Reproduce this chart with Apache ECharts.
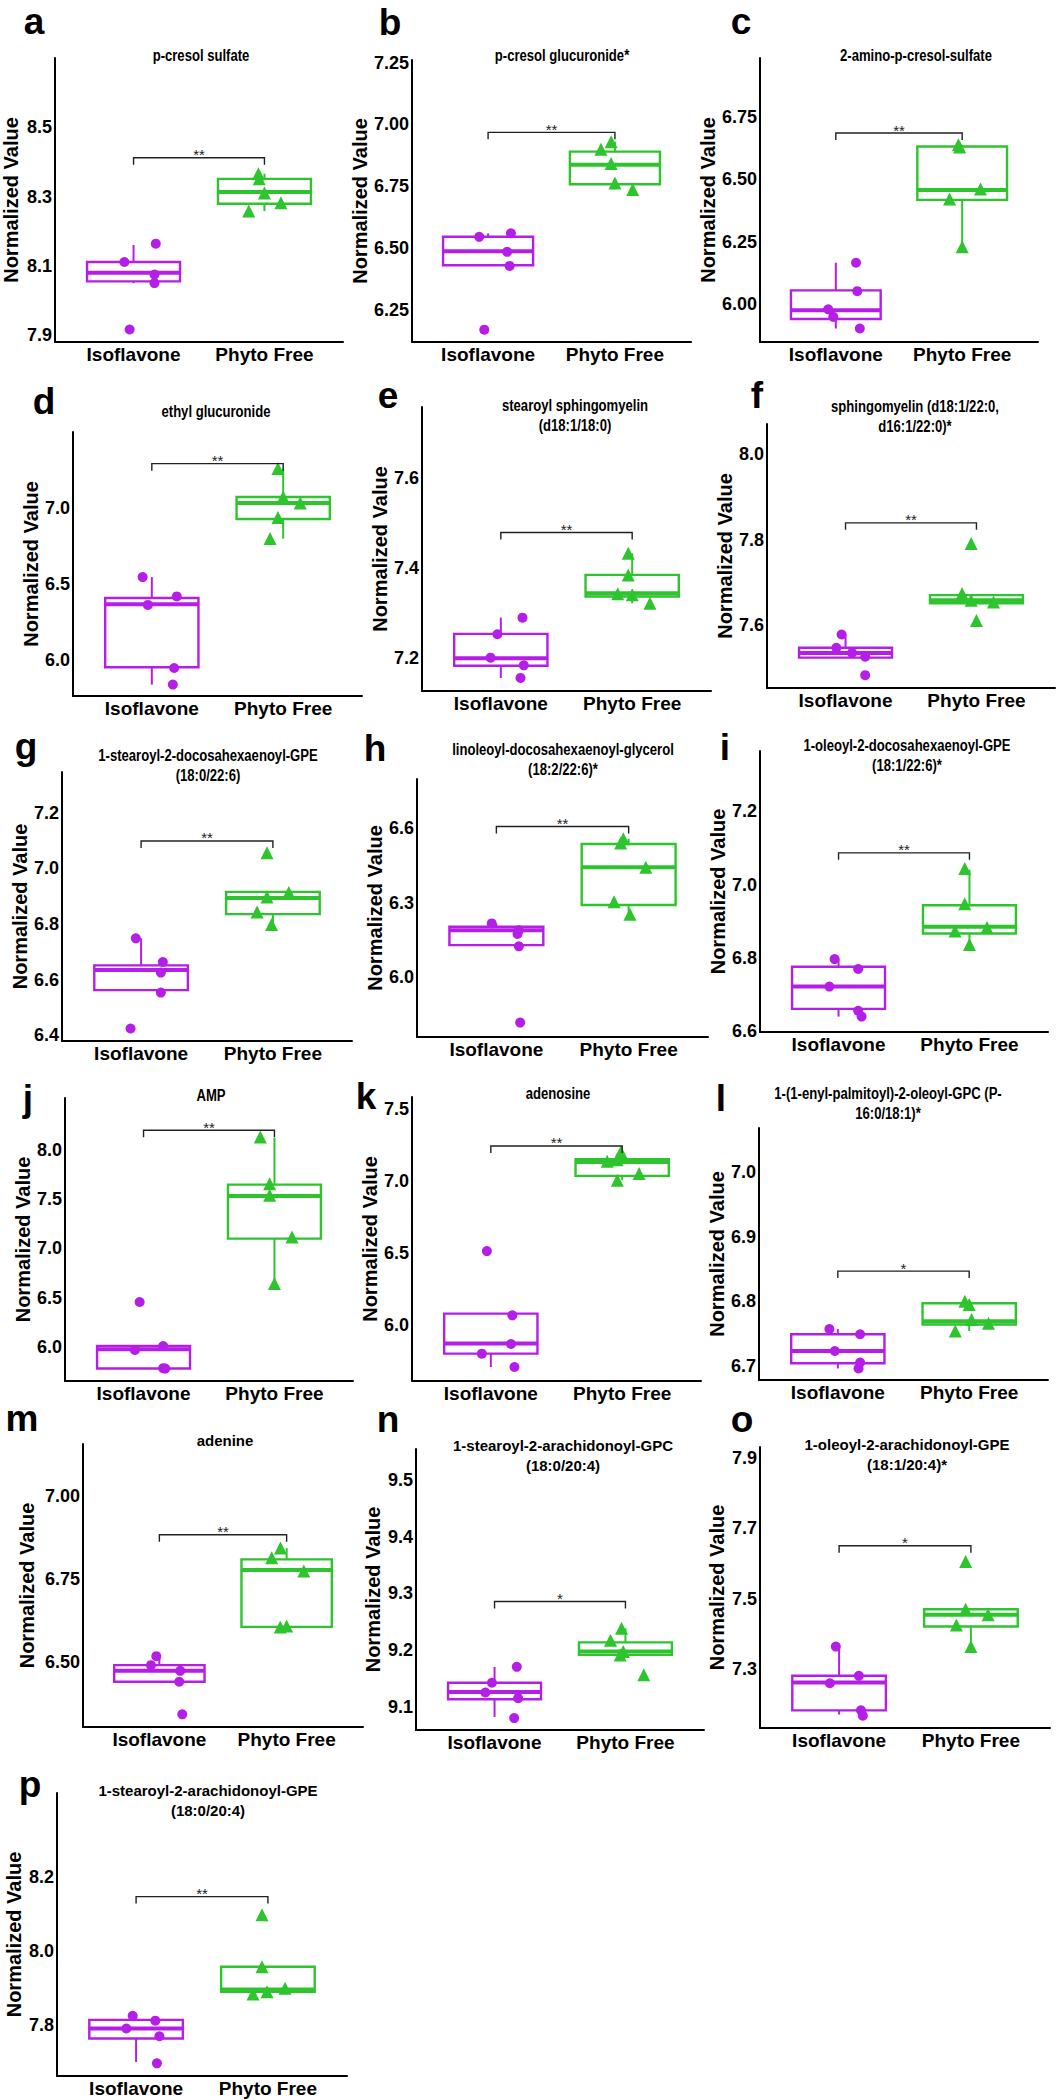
<!DOCTYPE html>
<html>
<head>
<meta charset="utf-8">
<script src="https://cdn.jsdelivr.net/npm/echarts@6/dist/echarts.min.js"></script>
<style>
html,body{margin:0;padding:0;background:#ffffff;}
#chart{width:1064px;height:2100px;}
</style>
</head>
<body>
<div id="chart"></div>
<script>
// ---------------- DATA ----------------
const categories = ['Isoflavone', 'Phyto Free'];

const panelLetters = ['a','b','c','d','e','f','g','h','i','j','k','l','m','n','o','p'];

const panelTitles = [
  'p-cresol sulfate',
  'p-cresol glucuronide*',
  '2-amino-p-cresol-sulfate',
  'ethyl glucuronide',
  'stearoyl sphingomyelin\n(d18:1/18:0)',
  'sphingomyelin (d18:1/22:0,\nd16:1/22:0)*',
  '1-stearoyl-2-docosahexaenoyl-GPE\n(18:0/22:6)',
  'linoleoyl-docosahexaenoyl-glycerol\n(18:2/22:6)*',
  '1-oleoyl-2-docosahexaenoyl-GPE\n(18:1/22:6)*',
  'AMP',
  'adenosine',
  '1-(1-enyl-palmitoyl)-2-oleoyl-GPC (P-\n16:0/18:1)*',
  'adenine',
  '1-stearoyl-2-arachidonoyl-GPC\n(18:0/20:4)',
  '1-oleoyl-2-arachidonoyl-GPE\n(18:1/20:4)*',
  '1-stearoyl-2-arachidonoyl-GPE\n(18:0/20:4)'
];

const yTickLabels = [
  ['7.9','8.1','8.3','8.5'],
  ['6.25','6.50','6.75','7.00','7.25'],
  ['6.00','6.25','6.50','6.75'],
  ['6.0','6.5','7.0'],
  ['7.2','7.4','7.6'],
  ['7.6','7.8','8.0'],
  ['6.4','6.6','6.8','7.0','7.2'],
  ['6.0','6.3','6.6'],
  ['6.6','6.8','7.0','7.2'],
  ['6.0','6.5','7.0','7.5','8.0'],
  ['6.0','6.5','7.0','7.5'],
  ['6.7','6.8','6.9','7.0'],
  ['6.50','6.75','7.00'],
  ['9.1','9.2','9.3','9.4','9.5'],
  ['7.3','7.5','7.7','7.9'],
  ['7.8','8.0','8.2']
];

const yRanges = [
  [7.88, 8.70], [6.119, 7.261], [5.848, 6.987],
  [5.761, 7.497], [7.127, 7.758], [7.453, 8.07],
  [6.379, 7.346], [5.761, 6.797], [6.598, 7.365],
  [5.655, 8.523], [5.613, 7.585], [6.678, 7.069],
  [6.304, 7.155], [9.06, 9.554], [7.133, 7.93],
  [7.663, 8.425]
];

// points: [horizontal jitter from group centre, value]
const isoPoints = [
  [[0.17,8.164],[-0.07,8.111],[0.16,8.075],[0.16,8.05],[-0.03,7.916]],
  [[-0.07,6.545],[0.18,6.559],[0.15,6.484],[0.17,6.427],[-0.03,6.169]],
  [[0.16,6.166],[0.17,6.052],[-0.06,5.979],[-0.02,5.949],[0.19,5.902]],
  [[-0.07,6.543],[0.19,6.416],[-0.03,6.36],[0.17,5.945],[0.16,5.836]],
  [[0.165,7.29],[-0.026,7.253],[-0.078,7.201],[0.175,7.184],[0.15,7.156]],
  [[-0.03,7.578],[-0.07,7.547],[0.05,7.535],[0.15,7.526],[0.15,7.483]],
  [[-0.04,6.748],[0.165,6.663],[0.15,6.625],[0.15,6.553],[-0.08,6.424]],
  [[-0.035,6.217],[0.17,6.19],[0.16,6.175],[0.17,6.125],[0.18,5.819]],
  [[-0.03,6.797],[0.15,6.77],[-0.07,6.722],[0.15,6.656],[0.176,6.64]],
  [[-0.03,6.456],[0.15,6.01],[-0.066,5.97],[0.15,5.785],[0.166,5.781]],
  [[-0.03,6.515],[0.164,6.069],[0.154,5.87],[-0.068,5.803],[0.18,5.71]],
  [[-0.064,6.757],[0.17,6.749],[-0.023,6.723],[0.17,6.705],[0.158,6.696]],
  [[-0.024,6.517],[-0.066,6.49],[0.164,6.473],[0.156,6.44],[0.18,6.342]],
  [[0.17,9.171],[-0.02,9.143],[-0.07,9.126],[0.18,9.116],[0.15,9.081]],
  [[-0.025,7.364],[0.15,7.281],[-0.07,7.26],[0.166,7.183],[0.18,7.168]],
  [[-0.026,7.825],[0.146,7.812],[-0.074,7.791],[0.177,7.77],[0.158,7.697]]
];

const phytoPoints = [
  [[-0.046,8.366],[-0.04,8.351],[0.0,8.31],[0.126,8.282],[-0.12,8.258]],
  [[-0.03,6.93],[-0.11,6.90],[-0.03,6.842],[0.0,6.763],[0.14,6.737]],
  [[-0.03,6.639],[-0.02,6.63],[0.145,6.462],[-0.1,6.422],[0.0,6.23]],
  [[-0.04,7.257],[0.0,7.07],[0.13,7.03],[-0.04,6.934],[-0.1,6.796]],
  [[-0.03,7.433],[-0.03,7.385],[-0.11,7.343],[0.0,7.341],[0.135,7.322]],
  [[-0.04,7.791],[-0.11,7.674],[-0.04,7.658],[0.13,7.654],[0.0,7.611]],
  [[-0.045,7.056],[0.12,6.913],[-0.045,6.897],[-0.12,6.843],[-0.01,6.798]],
  [[-0.04,6.557],[-0.06,6.54],[0.13,6.443],[-0.11,6.304],[0.01,6.254]],
  [[-0.036,7.044],[-0.036,6.948],[0.134,6.883],[-0.11,6.874],[0.0,6.837]],
  [[-0.108,8.128],[-0.037,7.655],[-0.037,7.537],[0.134,7.114],[0.0,6.642]],
  [[-0.01,7.203],[-0.04,7.15],[-0.114,7.139],[0.129,7.053],[-0.037,7.007]],
  [[-0.033,6.80],[0.0,6.795],[0.018,6.772],[0.147,6.766],[-0.106,6.754]],
  [[-0.048,6.842],[-0.117,6.813],[0.135,6.773],[-0.05,6.605],[0.0,6.608]],
  [[-0.03,9.239],[-0.114,9.218],[-0.017,9.198],[-0.04,9.192],[0.14,9.157]],
  [[-0.04,7.605],[-0.04,7.47],[0.13,7.454],[-0.11,7.425],[0.0,7.364]],
  [[-0.045,8.097],[-0.045,7.957],[-0.113,7.884],[-0.007,7.89],[0.13,7.899]]
];

// boxes: [lower whisker, Q1, median, Q3, upper whisker]
const isoBoxes = [
  [8.05,8.055,8.08,8.111,8.16],
  [6.427,6.43,6.487,6.545,6.559],
  [5.902,5.94,5.975,6.055,6.166],
  [5.836,5.95,6.365,6.405,6.543],
  [7.156,7.183,7.2,7.254,7.29],
  [7.524,7.524,7.535,7.547,7.578],
  [6.562,6.562,6.634,6.651,6.748],
  [6.13,6.13,6.19,6.204,6.217],
  [6.64,6.661,6.722,6.776,6.797],
  [5.781,5.781,5.977,6.01,6.01],
  [5.71,5.803,5.873,6.081,6.081],
  [6.696,6.704,6.723,6.749,6.757],
  [6.44,6.44,6.473,6.49,6.517],
  [9.083,9.114,9.127,9.143,9.171],
  [7.171,7.183,7.262,7.281,7.364],
  [7.701,7.764,7.791,7.814,7.825]
];

const phytoBoxes = [
  [8.258,8.279,8.313,8.351,8.366],
  [6.737,6.758,6.837,6.89,6.93],
  [6.23,6.418,6.458,6.632,6.639],
  [6.796,6.925,7.03,7.07,7.257],
  [7.322,7.337,7.344,7.385,7.433],
  [7.651,7.651,7.658,7.67,7.67],
  [6.798,6.835,6.893,6.915,6.915],
  [6.254,6.291,6.443,6.536,6.557],
  [6.837,6.867,6.885,6.944,7.041],
  [6.642,7.098,7.53,7.645,8.12],
  [7.007,7.037,7.134,7.153,7.203],
  [6.754,6.764,6.769,6.797,6.80],
  [6.605,6.605,6.776,6.808,6.842],
  [9.192,9.192,9.198,9.214,9.239],
  [7.364,7.421,7.454,7.47,7.47],
  [7.884,7.89,7.896,7.957,7.957]
];

const bracketLevels = [8.412, 6.968, 6.686, 7.289, 7.479, 7.839, 7.098, 6.606, 7.087, 8.196, 7.245, 6.847, 6.882, 9.286, 7.65, 8.146];
const significance = ['**','**','**','**','**','**','**','**','**','**','**','*','**','*','*','**'];

// ---------------- LAYOUT (pixels) ----------------
// [left, top, right, bottom] of each plotting area
const gridBoxes = [
  [54,58,343,342],[412,60,691,342],[760,58,1038,342],
  [73,432,362,696],[422,407,711,691],[767,424,1055,688],
  [62,772,352,1041],[417,779,708,1037],[760,751,1048,1032],
  [65,1098,353,1381],[412,1097,701,1381],[759,1128,1048,1380],
  [83,1444,363,1727],[416,1449,704,1730],[760,1447,1050,1728],
  [57,1793,347,2076]
];
const titlePos = [
  [201,55],[562,55],[916,55],
  [216,411],[575,415],[915,416],
  [208,765],[563,759],[907,755],
  [211,1095],[558,1093],[888,1103],
  [225,1440],[563,1455],[907,1454],
  [208,1800]
];
// condensed look of the titles in panels a-l, regular in m-p
const titleScaleX = [0.77,0.77,0.77,0.77,0.77,0.77,0.77,0.77,0.77,0.77,0.77,0.77,1,1,1,1];
const titleFontSize = [17,17,17,17,17,17,17,17,17,17,17,17,15,15,15,15];
const letterPos = [
  [34,34],[390,35],[741,34],
  [44,414],[388,408],[757,408],
  [26,759],[375,761],[725,760],
  [28,1111],[366,1109],[721,1111],
  [22,1431],[388,1432],[742,1432],
  [30,1797]
];
const nameGaps = [34,42,42,32,32,31,32,30,31,31,32,30,46,33,33,33];

const PURPLE = '#B41EE6';
const GREEN = '#2EC42E';
const FONT = '"Liberation Sans", Arial, Helvetica, sans-serif';
const BOX_WIDTH = 0.71;

// ---------------- RENDERERS ----------------
function renderBox(params, api) {
  const x = api.value(0);
  const color = x < 1.5 ? PURPLE : GREEN;
  const half = api.size([BOX_WIDTH, 0])[0] / 2;
  const pLo = api.coord([x, api.value(1)]);
  const yQ1 = api.coord([x, api.value(2)])[1];
  const yMed = api.coord([x, api.value(3)])[1];
  const yQ3 = api.coord([x, api.value(4)])[1];
  const yHi = api.coord([x, api.value(5)])[1];
  const cx = pLo[0];
  return {
    type: 'group',
    children: [
      {type:'line', shape:{x1:cx, y1:yQ3, x2:cx, y2:yHi}, style:{stroke:color, lineWidth:2}},
      {type:'line', shape:{x1:cx, y1:yQ1, x2:cx, y2:pLo[1]}, style:{stroke:color, lineWidth:2}},
      {type:'rect', shape:{x:cx-half, y:yQ3, width:2*half, height:yQ1-yQ3}, style:{fill:'none', stroke:color, lineWidth:2.4}},
      {type:'line', shape:{x1:cx-half, y1:yMed, x2:cx+half, y2:yMed}, style:{stroke:color, lineWidth:4}}
    ]
  };
}

function makeBracket(label) {
  return function (params, api) {
    const h = api.value(2);
    const p1 = api.coord([api.value(0), h]);
    const p2 = api.coord([api.value(1), h]);
    return {
      type: 'group',
      children: [
        {type:'polyline', shape:{points:[[p1[0], p1[1]+7], [p1[0], p1[1]], [p2[0], p2[1]], [p2[0], p2[1]+7]]},
         style:{stroke:'#222', lineWidth:1.4, fill:'none'}},
        {type:'text', x:(p1[0]+p2[0])/2, y:p1[1]-3,
         style:{text:label, fill:'#222', fontSize:15, fontFamily:FONT, align:'center', verticalAlign:'middle'}}
      ]
    };
  };
}

// ---------------- OPTION ----------------
const grid = [], xAxis = [], yAxis = [], series = [], graphic = [];
const axisLineStyle = {color:'#000', width:2};

for (let i = 0; i < 16; i++) {
  const [l, t, r, b] = gridBoxes[i];
  grid.push({left:l, top:t, width:r-l, height:b-t, containLabel:false});

  xAxis.push({
    gridIndex:i, type:'value', min:0.4, max:2.6,
    axisLine:{show:true, onZero:false, lineStyle:axisLineStyle},
    axisTick:{show:false}, splitLine:{show:false},
    axisLabel:{
      customValues:[1,2],
      formatter:function (v) { return categories[Math.round(v)-1] || ''; },
      color:'#000', fontWeight:'bold', fontSize:19, fontFamily:FONT, margin:3
    }
  });

  const ticks = yTickLabels[i];
  yAxis.push({
    gridIndex:i, type:'value', min:yRanges[i][0], max:yRanges[i][1],
    name:'Normalized Value', nameLocation:'middle', nameGap:nameGaps[i],
    nameTextStyle:{color:'#000', fontWeight:'bold', fontSize:20, fontFamily:FONT},
    axisLine:{show:true, onZero:false, lineStyle:axisLineStyle},
    axisTick:{show:false}, splitLine:{show:false},
    axisLabel:{
      customValues:ticks.map(Number),
      formatter:function (v) {
        const s = ticks.find(function (t) { return Math.abs(Number(t) - v) < 1e-9; });
        return s || '';
      },
      color:'#000', fontWeight:'bold', fontSize:18, fontFamily:FONT, margin:3
    }
  });

  series.push({
    type:'custom', xAxisIndex:i, yAxisIndex:i, renderItem:renderBox, silent:true, z:2,
    encode:{x:0, y:[1,2,3,4,5]},
    data:[[1].concat(isoBoxes[i]), [2].concat(phytoBoxes[i])]
  });
  series.push({
    type:'scatter', xAxisIndex:i, yAxisIndex:i, symbol:'circle', symbolSize:10, z:3, silent:true,
    itemStyle:{color:PURPLE, opacity:1},
    data:isoPoints[i].map(function (p) { return [1 + p[0], p[1]]; })
  });
  series.push({
    type:'scatter', xAxisIndex:i, yAxisIndex:i, symbol:'triangle', symbolSize:13, z:3, silent:true,
    itemStyle:{color:GREEN, opacity:1},
    data:phytoPoints[i].map(function (p) { return [2 + p[0], p[1]]; })
  });
  series.push({
    type:'custom', xAxisIndex:i, yAxisIndex:i, renderItem:makeBracket(significance[i]), silent:true, z:4,
    encode:{x:[0,1], y:2},
    data:[[1, 2, bracketLevels[i]]]
  });

  graphic.push({
    type:'text', x:titlePos[i][0], y:titlePos[i][1], scaleX:titleScaleX[i], silent:true,
    style:{text:panelTitles[i], fill:'#000', fontSize:titleFontSize[i], fontWeight:'bold', fontFamily:FONT,
           lineHeight:20, align:'center', verticalAlign:'middle', textAlign:'center', textVerticalAlign:'middle'}
  });
  graphic.push({
    type:'text', x:letterPos[i][0], y:letterPos[i][1] - 13, silent:true,
    style:{text:panelLetters[i], fill:'#000', fontSize:37, fontWeight:'bold', fontFamily:FONT,
           align:'center', verticalAlign:'middle', textAlign:'center', textVerticalAlign:'middle'}
  });
}

const chart = echarts.init(document.getElementById('chart'), null, {renderer:'svg'});
chart.setOption({
  backgroundColor:'#ffffff',
  animation:false,
  grid:grid, xAxis:xAxis, yAxis:yAxis, series:series, graphic:graphic
});
</script>
</body>
</html>
